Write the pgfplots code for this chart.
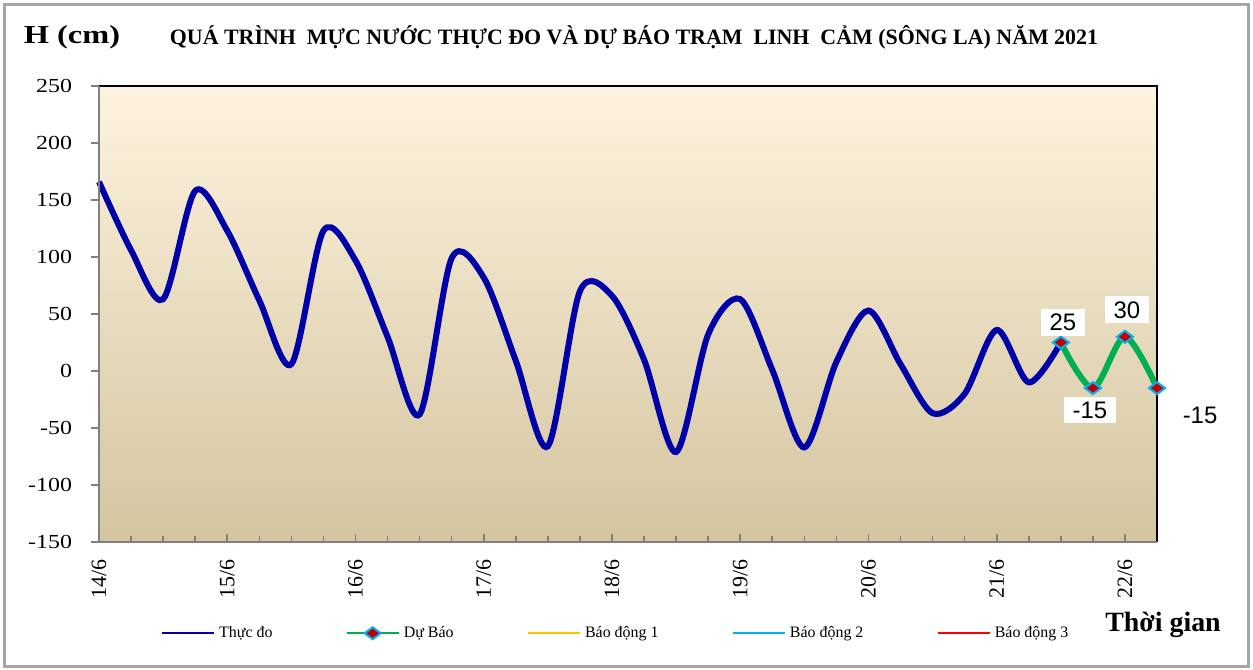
\documentclass[border=0pt]{standalone}
\usepackage{pgfplots}
\pgfplotsset{compat=1.18}
\usepackage{pgfplotstable}
\usepackage{fontspec}
\setmainfont{Liberation Serif}
\newfontfamily\arialfont{Liberation Sans}

\definecolor{bgtop}{RGB}{253,243,222}
\definecolor{bgmid}{RGB}{243,235,213}
\definecolor{bgbot}{RGB}{212,197,160}
\definecolor{thucdo}{RGB}{0,0,168}
\definecolor{dubao}{RGB}{0,176,80}
\definecolor{mkfill}{RGB}{192,0,0}
\definecolor{mkdraw}{RGB}{0,176,240}
\definecolor{bd1}{RGB}{255,192,0}
\definecolor{bd2}{RGB}{0,176,240}
\definecolor{bd3}{RGB}{255,0,0}

\newcommand{\dl}[1]{\rotatebox{90}{#1}}

% muc nuoc thuc do, 6 gio mot lan, x tinh bang ngay ke tu 14/6
\pgfplotstableread{
x y
0 166
0.25 106
0.5 63
0.75 158
1.0 123
1.25 62
1.5 6
1.75 123
2.0 97
2.25 30
2.5 -38
2.75 99
3.0 82
3.25 9
3.5 -66
3.75 70
4.0 66
4.25 10
4.5 -71
4.75 32
5.0 63
5.25 1
5.5 -67
5.75 8
6.0 53
6.25 6
6.5 -37
6.75 -20
7.0 36
7.25 -10
7.5 25
}\thucdotbl

% du bao, voi vi tri nhan
\pgfplotstableread{
x y lbl dx dy
7.5 25 25 1 10
7.75 -15 -15 -1.5 -11
8.0 30 30 1 13.5
8.25 -15 -15 21.5 -13.5
}\dubaotbl

\begin{document}
\begin{tikzpicture}[x=1bp,y=1bp]
\useasboundingbox (0,0) rectangle (626.5,334.5);
\draw[gray!70, line width=1.5bp] (2.2,1.2) rectangle (624.2,332.2);

\node[font=\bfseries\fontsize{13}{16}\selectfont] at (36,316) {\scalebox{1.25}[1]{H (cm)}};
\node[font=\bfseries\fontsize{11}{13}\selectfont] at (317,316)
  {QUÁ TRÌNH\ \ MỰC NƯỚC THỰC ĐO VÀ DỰ BÁO TRẠM\ \ LINH\ \ CẢM (SÔNG LA) NĂM 2021};
\node[font=\bfseries\fontsize{14}{16}\selectfont] at (581.5,22) {Thời gian};

\begin{axis}[
    at={(49.5bp,63.5bp)}, anchor=south west,
    width=529bp, height=228bp, scale only axis,
    xmin=0, xmax=8.25, ymin=-150, ymax=250,
    clip=false,
    axis line style={draw=none},
    axis background/.style={top color=bgtop, middle color=bgmid, bottom color=bgbot},
    xtick={0,1,...,8},
    xticklabels={\dl{14/6},\dl{15/6},\dl{16/6},\dl{17/6},\dl{18/6},\dl{19/6},\dl{20/6},\dl{21/6},\dl{22/6}},
    minor xtick={0.25,0.5,...,8.25},
    ytick={-150,-100,...,250},
    xtick pos=bottom, ytick pos=left,
    xtick align=inside, ytick align=outside,
    major tick length=4bp, minor tick length=3bp,
    tick style={gray, line width=0.8bp},
    x tick label style={anchor=north, yshift=-5bp, font=\fontsize{11}{12}\selectfont},
    y tick label style={font=\fontsize{10}{12}\selectfont, xshift=-6bp},
    yticklabel={\scalebox{1.2}[1]{\pgfmathprintnumber[assume math mode=true]{\tick}}},
    /pgf/number format/assume math mode=true,
    legend columns=5,
    legend style={at={(0.058,-0.2)}, anchor=west, draw=none, fill=none, inner sep=0pt,
      font=\fontsize{8}{10}\selectfont,
      /tikz/every even column/.append style={column sep=34.5bp}},
    legend image code/.code={\draw[mark repeat=2,mark phase=2,#1] plot coordinates {(0bp,0bp) (13bp,0bp) (26bp,0bp)};},
    legend image post style={line width=1.2bp},
]
\addplot[thucdo, line width=3bp, smooth, tension=0.5] table[x=x, y=y] {\thucdotbl};
\addlegendentry{Thực đo}

\addplot[dubao, line width=3bp, smooth, tension=0.5,
    mark=diamond*, mark size=4bp,
    mark options={rotate=90, fill=mkfill, draw=mkdraw, line width=1bp, solid},
    point meta=explicit symbolic,
    visualization depends on={\thisrow{dx} \as \lbldx},
    visualization depends on={\thisrow{dy} \as \lbldy},
    nodes near coords,
    every node near coord/.append style={anchor=center, fill=white,
      inner xsep=4.5bp, inner ysep=2.5bp,
      font=\arialfont\fontsize{12}{14}\selectfont, text=black,
      xshift=\lbldx bp, yshift=\lbldy bp},
  ] table[x=x, y=y, meta=lbl] {\dubaotbl};
\addlegendentry{Dự Báo}

\addlegendimage{bd1, line width=1.2bp}
\addlegendentry{Báo động 1}
\addlegendimage{bd2, line width=1.2bp}
\addlegendentry{Báo động 2}
\addlegendimage{bd3, line width=1.2bp}
\addlegendentry{Báo động 3}

\draw[black, line width=1bp] (rel axis cs:0,1) -- (rel axis cs:1,1) -- (rel axis cs:1,0);
\draw[gray, line width=1.2bp] (rel axis cs:0,1) -- (rel axis cs:0,0) -- (rel axis cs:1,0);
\end{axis}
\end{tikzpicture}
\end{document}
